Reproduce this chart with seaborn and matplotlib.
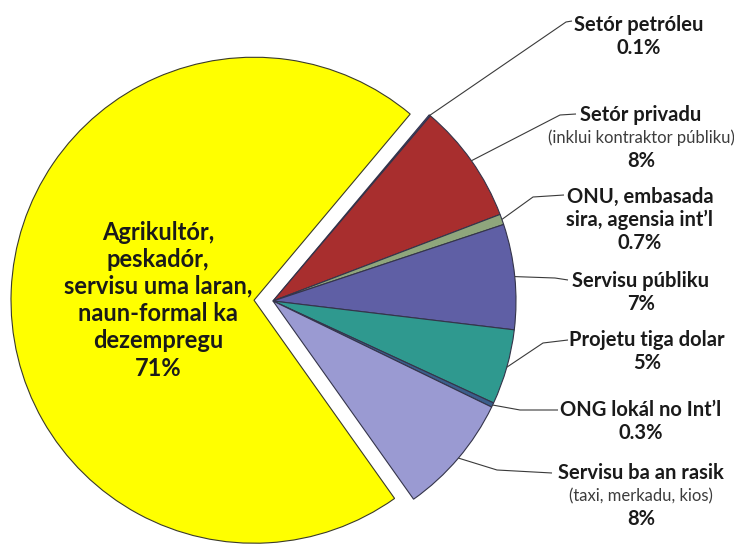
import numpy as np
import matplotlib
matplotlib.use("Agg")
import matplotlib.pyplot as plt
import seaborn as sns

# ---- data ----
categories = ["Setór petróleu", "Setór privadu", "ONU, embasada\nsira, agensia int’l",
              "Servisu públiku", "Projetu tiga dolar", "ONG lokál no Int’l",
              "Servisu ba an rasik",
              "Agrikultór,\npeskadór,\nservisu uma laran,\nnaun-formal ka\ndezempregu"]
notes = ["", "(inklui kontraktor públiku)", "", "", "", "", "(taxi, merkadu, kios)", ""]
values = [0.1, 8, 0.7, 7, 5, 0.3, 8, 71]
pct_labels = ["0.1%", "8%", "0.7%", "7%", "5%", "0.3%", "8%", "71%"]
colors = ["#4A4A9E", "#A82E2E", "#8FA67C", "#5F5FA5", "#2F998F", "#3B5E8C", "#9A9AD2", "#FFFF00"]

# ---- layout (pixel coords, y from top) ----
W, H = 734, 545
sns.set_theme(style="white")
plt.rcParams["font.family"] = ["Lato", "DejaVu Sans"]

fig = plt.figure(figsize=(W / 100, H / 100), dpi=100)
ax = fig.add_axes([0, 0, 1, 1])

def Y(py):
    return H - py

cx, cy, R = 273, Y(301), 243
explode = [0, 0, 0, 0, 0, 0, 0, 19]

wedges, _ = ax.pie(values, colors=colors, startangle=50, counterclock=False,
                   radius=R, center=(cx, cy), explode=explode,
                   wedgeprops=dict(edgecolor="#34344a", linewidth=0.8))
wedges[-1].set_edgecolor("#3a3a2a")
ax.set_xlim(0, W)
ax.set_ylim(0, H)
ax.set_aspect("equal")
ax.axis("off")

# label blocks: (x centre, y of first line)
label_pos = [(639, 25), (641, 115), (640, 197), (641, 281), (647, 340), (641, 410), (641, 473)]
tails = [((566, 22), (572, 21)), ((560, 115), (576, 114)), ((533, 197), (564, 195)),
         ((555, 278), (568, 280)), ((543, 343), (568, 340)), ((520, 410), (558, 410)),
         ((497, 470), (552, 473))]
step = 23
fs = 14.5
for i, w in enumerate(wedges[:-1]):
    x0, y0 = label_pos[i]
    lines = [(l, "bold", "#1a1a1a", fs) for l in categories[i].split("\n")]
    if notes[i]:
        lines.append((notes[i], "normal", "#3c3c3c", 12))
    lines.append((pct_labels[i], "bold", "#1a1a1a", fs))
    for k, (txt, wt, col, s) in enumerate(lines):
        ax.text(x0, Y(y0 + k * step), txt, ha="center", va="center",
                fontsize=s, fontweight=wt, color=col)
    # leader line from wedge arc midpoint
    th = np.deg2rad((w.theta1 + w.theta2) / 2)
    ax_x = w.center[0] + w.r * np.cos(th)
    ax_y = w.center[1] + w.r * np.sin(th)
    (ex, ey), (tx, ty) = tails[i]
    ax.plot([ax_x, ex, tx], [ax_y, Y(ey), Y(ty)], color="#3a3a3a", lw=0.8,
            solid_capstyle="butt")

# big slice label
big = categories[-1].split("\n") + [pct_labels[-1]]
for k, txt in enumerate(big):
    ax.text(158, Y(232 + k * 27.2), txt, ha="center", va="center",
            fontsize=17, fontweight="bold", color="#1a1a1a")

fig.savefig("out.png", dpi=100)
